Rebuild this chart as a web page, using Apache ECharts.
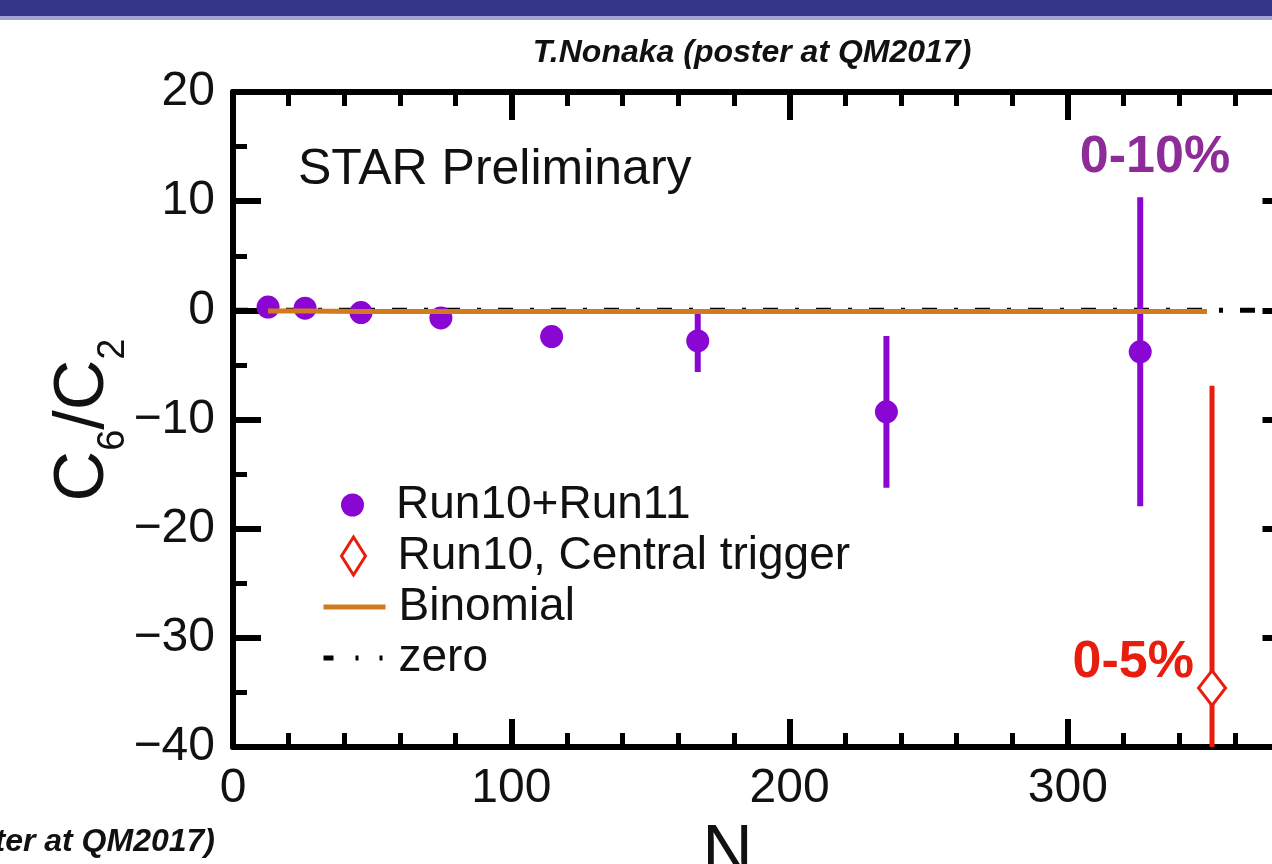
<!DOCTYPE html>
<html>
<head>
<meta charset="utf-8">
<script src="https://cdn.jsdelivr.net/npm/echarts@6/dist/echarts.min.js"></script>
<style>
  html, body { margin: 0; padding: 0; background: #ffffff; }
  #chart { width: 1272px; height: 864px; }
</style>
</head>
<body>
<div id="chart"></div>
<script>
// C6/C2 versus number of participants, Au+Au (STAR preliminary)
const nPart        = [12.6, 25.9, 46.0, 74.7, 114.5, 167.0, 234.8, 326.0];
const c6c2         = [0.3, 0.2, -0.2, -0.7, -2.4, -2.8, -9.3, -3.8];
const c6c2Err      = [0.2, 0.3, 0.4, 0.6, 0.9, 2.85, 6.95, 14.15];

const centralNPart = [351.8];
const centralC6C2  = [-34.6];
const centralErr   = [27.7];

const binomialNPart = [12.6, 25.9, 46.0, 74.7, 114.5, 167.0, 234.8, 326.0, 350.0];
const binomialC6C2  = [-0.05, -0.05, -0.1, -0.1, -0.1, -0.1, -0.1, -0.1, -0.1];

const zeroNPart = [0, 380];
const zeroC6C2  = [0, 0];

const xRange = [0, 380];
const yRange = [-40, 20];

const FONT = '"Liberation Sans", Arial, Helvetica, sans-serif';
const PURPLE = '#8a06d2';
const RED = '#e81d0e';
const ORANGE = '#d27a1f';

const pairs = (xs, ys) => xs.map((x, i) => [x, ys[i]]);
const triples = (xs, ys, es) => xs.map((x, i) => [x, ys[i], es[i]]);

// vertical error bar, clipped to the plotting area
function errorBar(color, width) {
  return function (params, api) {
    const x = api.value(0), y = api.value(1), e = api.value(2);
    const hi = api.coord([x, y + e]);
    const lo = api.coord([x, y - e]);
    const cs = params.coordSys;
    return {
      type: 'line',
      shape: {
        x1: hi[0], y1: Math.max(hi[1], cs.y),
        x2: lo[0], y2: Math.min(lo[1], cs.y + cs.height)
      },
      style: { stroke: color, lineWidth: width }
    };
  };
}

const minus = v => String(v).replace('-', '\u2212');

function xAxisDef(position, interval, major) {
  return {
    type: 'value', position, min: xRange[0], max: xRange[1], interval,
    axisLine: { show: major, onZero: false, lineStyle: { color: '#000', width: 6 } },
    axisTick: { show: true, inside: true, length: major ? 28 : 14,
                lineStyle: { color: '#000', width: major ? 6 : 5 } },
    axisLabel: { show: major && position === 'bottom', showMaxLabel: false,
                 margin: 18, fontSize: 48, color: '#111', fontFamily: FONT },
    splitLine: { show: false }
  };
}

function yAxisDef(position) {
  return {
    type: 'value', position, min: yRange[0], max: yRange[1], interval: 10,
    axisLine: { show: true, onZero: false, lineStyle: { color: '#000', width: 6 } },
    axisTick: { show: true, inside: true, length: 28, lineStyle: { color: '#000', width: 6 } },
    minorTick: { show: true, splitNumber: 2, length: 14, lineStyle: { color: '#000', width: 5 } },
    axisLabel: { show: position === 'left', margin: 18, fontSize: 48, color: '#111',
                 fontFamily: FONT, formatter: minus },
    splitLine: { show: false }
  };
}

const legendBase = {
  orient: 'vertical', padding: 0, selectedMode: false,
  textStyle: { fontSize: 46, color: '#111', fontFamily: FONT, lineHeight: 50 }
};
const legendText = pad => Object.assign({}, legendBase.textStyle, { padding: [0, 0, 0, pad] });
// line-only legend keys: the marker that line series add to their key is made invisible
const hiddenMarker = { color: 'rgba(0,0,0,0)', borderColor: 'rgba(0,0,0,0)', borderWidth: 0, opacity: 0 };

const chart = echarts.init(document.getElementById('chart'), null, { renderer: 'canvas' });

chart.setOption({
  backgroundColor: '#ffffff',
  animation: false,
  grid: { left: 233, top: 92, width: 1057.5, height: 655, containLabel: false, outerBoundsMode: 'none' },
  xAxis: [
    xAxisDef('bottom', 100, true),
    xAxisDef('bottom', 20, false),
    xAxisDef('top', 100, true),
    xAxisDef('top', 20, false)
  ],
  yAxis: [yAxisDef('left'), yAxisDef('right')],
  legend: [
    Object.assign({}, legendBase, {
      left: 341, top: 480, itemWidth: 23, itemHeight: 23,
      textStyle: legendText(27),
      data: [{ name: 'Run10+Run11', icon: 'circle' }]
    }),
    Object.assign({}, legendBase, {
      left: 340, top: 531, itemWidth: 24, itemHeight: 38, symbolKeepAspect: false,
      itemStyle: { color: '#fff', borderColor: RED, borderWidth: 3 },
      textStyle: legendText(27),
      data: [{ name: 'Run10, Central trigger', icon: 'diamond' }]
    }),
    Object.assign({}, legendBase, {
      left: 321, top: 582, itemWidth: 62, itemHeight: 14,
      lineStyle: { width: 5, color: ORANGE },
      itemStyle: hiddenMarker,
      textStyle: legendText(8),
      data: [{ name: 'Binomial' }]
    }),
    Object.assign({}, legendBase, {
      left: 321, top: 633, itemWidth: 62, itemHeight: 14,
      lineStyle: { width: 5, color: '#000', type: [10, 22, 3, 21, 3, 100] },
      itemStyle: hiddenMarker,
      textStyle: legendText(8),
      data: [{ name: 'zero' }]
    })
  ],
  series: [
    {
      name: 'zero', type: 'line', z: 1,
      data: pairs(zeroNPart, zeroC6C2),
      symbol: 'none',
      lineStyle: { color: '#000', width: 5, type: [15, 17, 4, 17] }
    },
    {
      name: 'Run10+Run11 errors', type: 'custom', z: 2,
      renderItem: errorBar(PURPLE, 6),
      encode: { x: 0, y: 1 },
      data: triples(nPart, c6c2, c6c2Err)
    },
    {
      name: 'Run10, Central trigger errors', type: 'custom', z: 2,
      renderItem: errorBar(RED, 5),
      encode: { x: 0, y: 1 },
      data: triples(centralNPart, centralC6C2, centralErr)
    },
    {
      name: 'Run10+Run11', type: 'scatter', z: 3,
      data: pairs(nPart, c6c2),
      symbol: 'circle', symbolSize: 23,
      itemStyle: { color: PURPLE, opacity: 1 }
    },
    {
      name: 'Run10, Central trigger', type: 'scatter', z: 3,
      data: pairs(centralNPart, centralC6C2),
      symbol: 'diamond', symbolSize: [27, 35],
      itemStyle: { color: '#ffffff', borderColor: RED, borderWidth: 3, opacity: 1 }
    },
    {
      name: 'Binomial', type: 'line', z: 4,
      data: pairs(binomialNPart, binomialC6C2),
      symbol: 'none',
      lineStyle: { color: ORANGE, width: 5 }
    }
  ],
  graphic: [
    { type: 'rect', z: 10, shape: { x: 0, y: 0, width: 1272, height: 16 }, style: { fill: '#35358a' } },
    { type: 'rect', z: 10, shape: { x: 0, y: 16, width: 1272, height: 4 }, style: { fill: '#a3a3d0' } },
    {
      type: 'text', z: 10, x: 752, y: 53,
      style: {
        text: 'T.Nonaka (poster at QM2017)',
        font: 'italic bold 32px "Liberation Sans Narrow", "Liberation Sans", Arial, sans-serif',
        fill: '#111', textAlign: 'center', textVerticalAlign: 'middle',
        align: 'center', verticalAlign: 'middle'
      }
    },
    {
      type: 'text', z: 10, x: 215, y: 842,
      style: {
        text: 'T.Nonaka (poster at QM2017)',
        font: 'italic bold 32px "Liberation Sans Narrow", "Liberation Sans", Arial, sans-serif',
        fill: '#111', textAlign: 'right', textVerticalAlign: 'middle',
        align: 'right', verticalAlign: 'middle'
      }
    },
    {
      type: 'text', z: 10, x: 298, y: 170,
      style: {
        text: 'STAR Preliminary', font: '50px ' + FONT, fill: '#111',
        textAlign: 'left', textVerticalAlign: 'middle', align: 'left', verticalAlign: 'middle'
      }
    },
    {
      type: 'text', z: 10, x: 1155, y: 158,
      style: {
        text: '0-10%', font: 'bold 52px ' + FONT, fill: '#8d2b98',
        textAlign: 'center', textVerticalAlign: 'middle', align: 'center', verticalAlign: 'middle'
      }
    },
    {
      type: 'text', z: 10, x: 1194, y: 663,
      style: {
        text: '0-5%', font: 'bold 52px ' + FONT, fill: RED,
        textAlign: 'right', textVerticalAlign: 'middle', align: 'right', verticalAlign: 'middle'
      }
    },
    {
      type: 'text', z: 10, x: 84, y: 420, rotation: Math.PI / 2,
      style: {
        text: '{m|C}{s|6}{m|/C}{s|2}',
        fill: '#111', textAlign: 'center', textVerticalAlign: 'middle',
        align: 'center', verticalAlign: 'middle',
        rich: {
          m: { fontSize: 70, lineHeight: 70, fontFamily: FONT, verticalAlign: 'top', fill: '#111' },
          s: { fontSize: 38, lineHeight: 38, fontFamily: FONT, verticalAlign: 'top', padding: [46, 0, 0, 0], fill: '#111' }
        }
      }
    },
    {
      type: 'text', z: 10, x: 762, y: 855,
      style: {
        text: '{m|N}{s|part}',
        fill: '#111', textAlign: 'center', textVerticalAlign: 'middle',
        align: 'center', verticalAlign: 'middle',
        rich: {
          m: { fontSize: 70, lineHeight: 70, fontFamily: FONT, verticalAlign: 'top', fill: '#111' },
          s: { fontSize: 40, lineHeight: 40, fontFamily: FONT, verticalAlign: 'top', padding: [44, 0, 0, 0], fill: '#111' }
        }
      }
    }
  ]
});
</script>
</body>
</html>
